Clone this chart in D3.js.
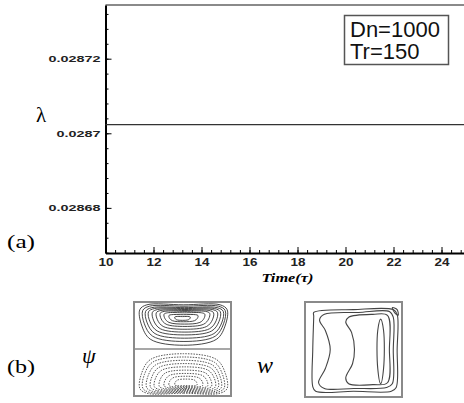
<!DOCTYPE html>
<html>
<head>
<meta charset="utf-8">
<script src="https://cdn.jsdelivr.net/npm/d3@7/dist/d3.min.js"></script>
<style>
body { margin: 0; background: #fff; }
</style>
</head>
<body>
<div id="chart"></div>
<script>
// data
var timeDomain = [10, 25]
var lambdaDomain = [0.0286679, 0.0287344]
var timeTicks = [10, 12, 14, 16, 18, 20, 22, 24]
var timeLabels = ['10', '12', '14', '16', '18', '20', '22', '24']
var lambdaTicks = [0.02868, 0.0287, 0.02872]
var lambdaLabels = ['0.02868', '0.0287', '0.02872']
var lambdaTime = [10, 25]
var lambdaValue = [0.0287023, 0.0287023]
var legendLines = ['Dn=1000', 'Tr=150']

// contour insets, unit square coords (u, v)
var bowlShape = [[0.08,0],[0.5,0],[0.92,0],[1,0.12],[0.98,0.5],[0.88,0.85],[0.5,1],[0.12,0.85],[0.02,0.5],[0,0.12]]
var psiTopLevels = [
  [0.06,0.96,0.03,0.46], [0.09,0.94,0.045,0.42], [0.12,0.92,0.06,0.385],
  [0.15,0.89,0.07,0.35], [0.19,0.86,0.08,0.32], [0.23,0.82,0.09,0.29],
  [0.27,0.78,0.10,0.26], [0.31,0.73,0.115,0.235], [0.36,0.66,0.135,0.21],
  [0.42,0.58,0.155,0.195]
]
var psiBottomLevels = [
  [0.06,0.96,0.55,0.97], [0.09,0.93,0.585,0.96], [0.13,0.90,0.62,0.95],
  [0.17,0.87,0.655,0.94], [0.21,0.84,0.69,0.93], [0.26,0.80,0.725,0.92],
  [0.31,0.76,0.76,0.91], [0.36,0.71,0.79,0.90], [0.42,0.65,0.82,0.89]
]
var wLoops = [
  [[0.09,0.11],[0.5,0.08],[0.91,0.08],[0.95,0.13],[0.95,0.5],[0.94,0.9],[0.89,0.94],[0.5,0.94],[0.11,0.94],[0.08,0.89],[0.08,0.5],[0.09,0.15]],
  [[0.2,0.13],[0.55,0.11],[0.87,0.10],[0.91,0.16],[0.91,0.5],[0.90,0.86],[0.84,0.90],[0.5,0.91],[0.2,0.91],[0.14,0.85],[0.21,0.7],[0.26,0.5],[0.21,0.3],[0.15,0.19]],
  [[0.45,0.16],[0.7,0.13],[0.85,0.14],[0.87,0.5],[0.85,0.85],[0.7,0.87],[0.45,0.86],[0.42,0.8],[0.49,0.65],[0.51,0.5],[0.48,0.32],[0.42,0.21]],
  [[0.78,0.18],[0.81,0.3],[0.81,0.7],[0.78,0.86],[0.75,0.7],[0.75,0.3]],
  [[0.90,0.06],[0.95,0.08],[0.96,0.14],[0.93,0.12]]
]

var width = 464, height = 403

var svg = d3.select('#chart')
  .append('svg')
  .attr('width', width)
  .attr('height', height)
  .style('font-family', 'Liberation Sans, Arial, sans-serif')

// SCALES
var x = d3.scaleLinear().domain(timeDomain).range([105.5, 465.5])
var y = d3.scaleLinear().domain(lambdaDomain).range([253, 5])

// frame top (right side falls outside the window)
svg.append('line')
  .attr('x1', x(timeDomain[0])).attr('x2', x(timeDomain[1]))
  .attr('y1', y(lambdaDomain[1])).attr('y2', y(lambdaDomain[1]))
  .attr('stroke', '#8a8a8a').attr('stroke-width', 2)
svg.append('line')
  .attr('x1', x(timeDomain[1])).attr('x2', x(timeDomain[1]))
  .attr('y1', y(lambdaDomain[0])).attr('y2', y(lambdaDomain[1]))
  .attr('stroke', '#8a8a8a').attr('stroke-width', 2)

// minor ticks
var xMinor = d3.range(10, 25.01, 0.4)
var yMinor = d3.range(0.028668, 0.028735, 0.000004)

svg.append('g')
  .attr('transform', 'translate(0,' + y(lambdaDomain[0]) + ')')
  .call(d3.axisBottom(x).tickValues(xMinor).tickSize(-3).tickFormat(''))
  .call(g => g.select('.domain').remove())
svg.append('g')
  .attr('transform', 'translate(' + x(timeDomain[0]) + ',0)')
  .call(d3.axisLeft(y).tickValues(yMinor).tickSize(-3).tickFormat(''))
  .call(g => g.select('.domain').remove())

// ADD AXIS
var xAxis = svg.append('g')
  .attr('transform', 'translate(0,' + y(lambdaDomain[0]) + ')')
  .call(d3.axisBottom(x).tickValues(timeTicks).tickSize(-6).tickPadding(5)
    .tickFormat((d, i) => timeLabels[i]).tickSizeOuter(0))
xAxis.select('.domain').attr('stroke-width', 2)
xAxis.selectAll('text')
  .attr('font-size', 11)
  .attr('font-weight', 'bold')
  .attr('fill', '#222')
  .attr('font-family', 'Liberation Sans, Arial, sans-serif')
  .attr('textLength', 15).attr('lengthAdjust', 'spacingAndGlyphs')

var yAxis = svg.append('g')
  .attr('transform', 'translate(' + x(timeDomain[0]) + ',0)')
  .call(d3.axisLeft(y).tickValues(lambdaTicks).tickSize(-6).tickPadding(5)
    .tickFormat((d, i) => lambdaLabels[i]).tickSizeOuter(0))
yAxis.select('.domain').attr('stroke-width', 2)
yAxis.selectAll('text')
  .attr('font-size', 9.5)
  .attr('font-weight', 'bold')
  .attr('fill', '#222')
  .attr('font-family', 'Liberation Sans, Arial, sans-serif')
  .attr('lengthAdjust', 'spacingAndGlyphs')
  .each(function(d, i) {
    var n = lambdaLabels[i].length - 1
    d3.select(this).attr('textLength', n * 8 + 4)
  })

// the lambda line
var line = d3.line().x(d => x(d[0])).y(d => y(d[1]))
svg.append('path')
  .datum(d3.zip(lambdaTime, lambdaValue))
  .attr('d', line)
  .attr('fill', 'none')
  .attr('stroke', '#333')
  .attr('stroke-width', 1.2)

// axis titles
var serif = 'Liberation Serif, Times New Roman, serif'
svg.append('text')
  .attr('x', 41).attr('y', 122)
  .attr('text-anchor', 'middle')
  .attr('font-family', serif)
  .attr('font-size', 21)
  .text('λ')
svg.append('text')
  .attr('x', 287.5).attr('y', 282)
  .attr('text-anchor', 'middle')
  .attr('font-family', serif)
  .attr('font-style', 'italic')
  .attr('font-weight', 'bold')
  .attr('font-size', 13)
  .attr('textLength', 52).attr('lengthAdjust', 'spacingAndGlyphs')
  .text('Time(τ)')

// legend
svg.append('rect')
  .attr('x', 344.5).attr('y', 15.5).attr('width', 104).attr('height', 49)
  .attr('fill', '#fff').attr('stroke', '#555').attr('stroke-width', 1.5)
svg.selectAll('.leg')
  .data(legendLines)
  .enter()
  .append('text')
  .attr('class', 'leg')
  .attr('x', 350)
  .attr('y', (d, i) => 36.5 + i * 22.7)
  .attr('font-size', 22)
  .attr('fill', '#111')
  .text(d => d)

// panel labels
svg.append('text').attr('x', 7).attr('y', 248)
  .attr('font-family', serif).attr('font-size', 19)
  .attr('textLength', 28).attr('lengthAdjust', 'spacingAndGlyphs')
  .text('(a)')
svg.append('text').attr('x', 7).attr('y', 373)
  .attr('font-family', serif).attr('font-size', 19)
  .attr('textLength', 28).attr('lengthAdjust', 'spacingAndGlyphs')
  .text('(b)')
svg.append('text').attr('x', 82).attr('y', 363)
  .attr('font-family', serif).attr('font-style', 'italic').attr('font-size', 22)
  .text('ψ')
svg.append('text').attr('x', 257).attr('y', 373)
  .attr('font-family', serif).attr('font-style', 'italic').attr('font-size', 24)
  .text('w')

// INSETS
function levelLoop(shape, lv, flip) {
  return shape.map(p => [lv[0] + p[0] * (lv[1] - lv[0]),
    lv[2] + (flip ? 1 - p[1] : p[1]) * (lv[3] - lv[2])])
}

function inset(x0, x1, y0, y1) {
  var sx = d3.scaleLinear().domain([0, 1]).range([x0, x1])
  var sy = d3.scaleLinear().domain([0, 1]).range([y0, y1])
  var g = svg.append('g')
  g.append('rect')
    .attr('x', x0).attr('y', y0).attr('width', x1 - x0).attr('height', y1 - y0)
    .attr('fill', '#fff').attr('stroke', '#8a8a8a').attr('stroke-width', 2)
  var loop = d3.line().x(d => sx(d[0])).y(d => sy(d[1]))
    .curve(d3.curveCatmullRomClosed.alpha(0.5))
  return { g: g, sx: sx, sy: sy, loop: loop }
}

var psi = inset(134, 231, 302, 396)
psi.g.append('line')
  .attr('x1', psi.sx(0)).attr('x2', psi.sx(1))
  .attr('y1', psi.sy(0.5)).attr('y2', psi.sy(0.5))
  .attr('stroke', '#8a8a8a').attr('stroke-width', 1.5)
psi.g.selectAll('.top')
  .data(psiTopLevels)
  .enter()
  .append('path')
  .attr('d', d => psi.loop(levelLoop(bowlShape, d, false)))
  .attr('fill', 'none').attr('stroke', '#333').attr('stroke-width', 0.9)
psi.g.selectAll('.bot')
  .data(psiBottomLevels)
  .enter()
  .append('path')
  .attr('d', d => psi.loop(levelLoop(bowlShape, d, true)))
  .attr('fill', 'none').attr('stroke', '#444').attr('stroke-width', 0.9)
  .attr('stroke-dasharray', '1.5,1.2')

var w = inset(305, 402, 302, 397)
w.g.selectAll('path.loop')
  .data(wLoops)
  .enter()
  .append('path')
  .attr('d', d => w.loop(d))
  .attr('fill', 'none').attr('stroke', '#444').attr('stroke-width', 1.1)
</script>
</body>
</html>
